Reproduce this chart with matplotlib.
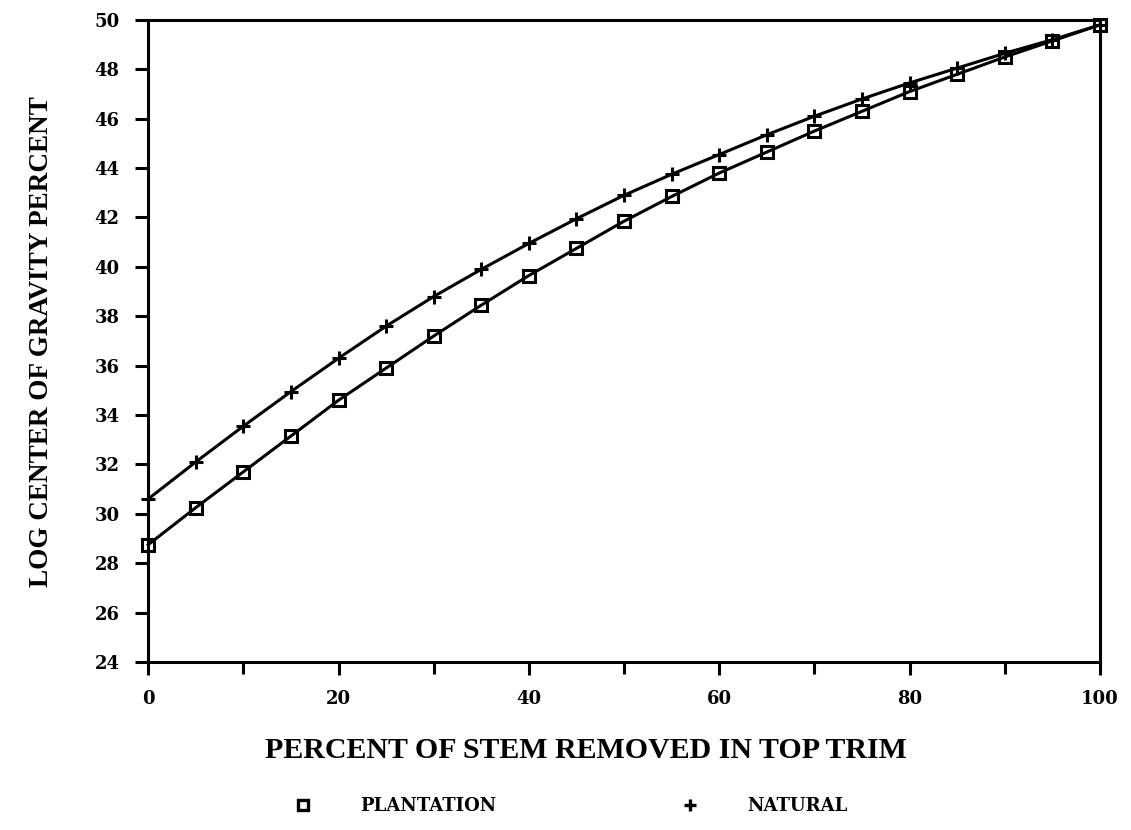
import matplotlib
matplotlib.use("Agg")
import matplotlib.pyplot as plt
from matplotlib.lines import Line2D

# ── Data ─────────────────────────────────────────────────────────────
pct_removed = [0, 5, 10, 15, 20, 25, 30, 35, 40, 45, 50,
               55, 60, 65, 70, 75, 80, 85, 90, 95, 100]
plantation = [28.75, 30.25, 31.7, 33.15, 34.6, 35.9, 37.2, 38.45, 39.65, 40.75, 41.85,
              42.85, 43.8, 44.65, 45.5, 46.3, 47.1, 47.8, 48.5, 49.15, 49.8]
natural = [30.6, 32.1, 33.55, 34.95, 36.3, 37.6, 38.8, 39.9, 40.95, 41.95, 42.9,
           43.75, 44.55, 45.35, 46.1, 46.8, 47.45, 48.05, 48.65, 49.2, 49.8]
x_ticks = [0, 20, 40, 60, 80, 100]
y_ticks = list(range(24, 51, 2))

plt.rcParams["font.family"] = ["Liberation Serif", "DejaVu Serif"]

fig = plt.figure(figsize=(11.31, 8.30), dpi=100)
ax = fig.add_axes([0.131, 0.2024, 0.8416, 0.7736])

ax.plot(pct_removed, natural, color="black", lw=2.2, marker="+", ms=10, mew=2.2,
        clip_on=False)
ax.plot(pct_removed, plantation, color="black", lw=2.2, marker="s", ms=8.5,
        mfc="none", mew=2.2, clip_on=False)

ax.set_xlim(0, 100)
ax.set_ylim(24, 50)
ax.set_xticks(x_ticks)
ax.set_xticks(range(10, 100, 20), minor=True)
ax.set_yticks(y_ticks)
ax.tick_params(axis="both", which="both", direction="out", width=2.2, pad=11)
ax.tick_params(axis="both", which="major", length=9.5)
ax.tick_params(axis="x", which="minor", length=8.5)
for lbl in ax.get_xticklabels() + ax.get_yticklabels():
    lbl.set_family("DejaVu Serif")
    lbl.set_fontweight("bold")
    lbl.set_fontsize(13)
for s in ax.spines.values():
    s.set_linewidth(2.2)

# axis titles
fig.text(586 / 1131, 1 - 750 / 830, "PERCENT OF STEM REMOVED IN TOP TRIM",
         ha="center", va="center", fontsize=21.5, fontweight="bold")
fig.text(42 / 1131, 1 - 342 / 830, "LOG CENTER OF GRAVITY PERCENT",
         ha="center", va="center", rotation=90, fontsize=19.5, fontweight="bold")

# legend below the plot
leg_font = {"family": "DejaVu Serif", "weight": "bold", "size": 13}
h_plant = Line2D([], [], ls="none", marker="s", ms=7.5, mfc="none", mec="black", mew=2.4)
h_nat = Line2D([], [], ls="none", marker="+", ms=9, mec="black", mew=2.4)
leg1 = fig.legend([h_plant], ["PLANTATION"], loc="center left",
                  bbox_to_anchor=(294 / 1131, 1 - 806 / 830), frameon=False,
                  borderpad=0, borderaxespad=0, handlelength=1,
                  handletextpad=2.65, prop=leg_font)
leg2 = fig.legend([h_nat], ["NATURAL"], loc="center left",
                  bbox_to_anchor=(681 / 1131, 1 - 806 / 830), frameon=False,
                  borderpad=0, borderaxespad=0, handlelength=1,
                  handletextpad=2.65, prop=leg_font)

fig.savefig("out.png", dpi=100)
